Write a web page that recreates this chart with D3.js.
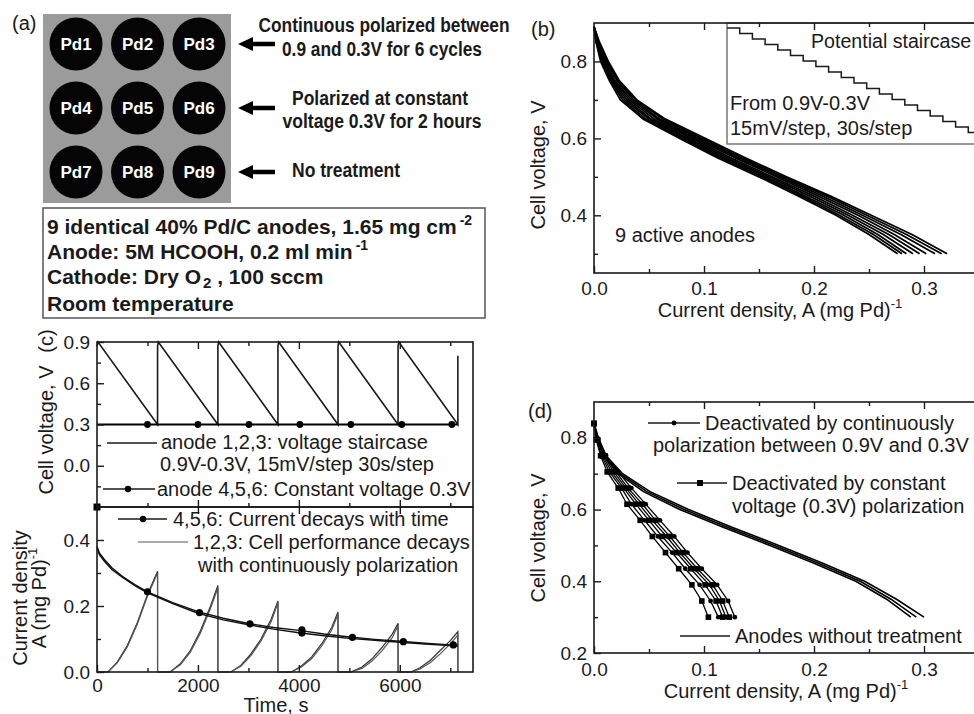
<!DOCTYPE html>
<html>
<head>
<meta charset="utf-8">
<script src="https://cdn.jsdelivr.net/npm/d3@7"></script>
<style>
body { margin: 0; background: #fff; }
svg { display: block; font-family: "Liberation Sans", Arial, sans-serif; }
</style>
</head>
<body>
<svg id="chart"></svg>
<script>
// ---- panel (a) ----
const anodeLabels = ["Pd1", "Pd2", "Pd3", "Pd4", "Pd5", "Pd6", "Pd7", "Pd8", "Pd9"];
const treatmentText = [
    ["Continuous polarized between", "0.9 and 0.3V for 6 cycles"],
    ["Polarized at constant", "voltage 0.3V for 2 hours"],
    ["No treatment"]
];

// ---- panel (b) ----
const bVoltage = [0.89, 0.85, 0.8, 0.75, 0.7, 0.65, 0.6, 0.55, 0.5, 0.45, 0.4, 0.35, 0.3];
const bCurrent = [
    [0, 0.002, 0.006, 0.014, 0.024, 0.045, 0.078, 0.112, 0.150, 0.186, 0.220, 0.250, 0.276],
    [0, 0.002, 0.007, 0.015, 0.026, 0.047, 0.080, 0.115, 0.153, 0.189, 0.223, 0.254, 0.280],
    [0, 0.003, 0.008, 0.016, 0.028, 0.050, 0.083, 0.118, 0.156, 0.192, 0.227, 0.258, 0.284],
    [0, 0.003, 0.008, 0.017, 0.030, 0.052, 0.086, 0.121, 0.159, 0.196, 0.231, 0.263, 0.290],
    [0, 0.003, 0.009, 0.018, 0.032, 0.055, 0.089, 0.124, 0.162, 0.200, 0.235, 0.268, 0.296],
    [0, 0.004, 0.010, 0.019, 0.034, 0.058, 0.092, 0.128, 0.166, 0.204, 0.240, 0.273, 0.302],
    [0, 0.004, 0.011, 0.021, 0.036, 0.060, 0.095, 0.131, 0.169, 0.208, 0.244, 0.279, 0.310],
    [0, 0.004, 0.012, 0.022, 0.038, 0.063, 0.098, 0.134, 0.172, 0.212, 0.248, 0.284, 0.316],
    [0, 0.005, 0.013, 0.023, 0.039, 0.065, 0.101, 0.137, 0.175, 0.215, 0.252, 0.289, 0.321]
];
const stairVoltage = [0.9, 0.885, 0.87, 0.855, 0.84, 0.825, 0.81, 0.795, 0.78, 0.765,
    0.75, 0.735, 0.72, 0.705, 0.69, 0.675, 0.66, 0.645, 0.63, 0.615];
const stairStep = 30;

// ---- panel (c) ----
const cycleTime = [0, 20, 1200, 1200, 1215, 2395, 2395, 2410, 3585, 3585, 3600, 4775, 4775, 4790,
    5965, 5965, 5980, 7150, 7150];
const cycleVolt = [0.87, 0.9, 0.3, 0.87, 0.9, 0.3, 0.87, 0.9, 0.3, 0.87, 0.9, 0.3, 0.87, 0.9,
    0.3, 0.87, 0.9, 0.3, 0.8];
const constTime = [0, 7150];
const constVolt = [0.3, 0.3];
const constDotTime = [1000, 2000, 3010, 4020, 5030, 6040, 7030];

const decayTime = [0, 50, 150, 300, 500, 750, 1000, 1500, 2000, 2500, 3000, 3500, 4000, 4500,
    5000, 5500, 6000, 6500, 7000, 7150];
const decay4 = [0.38, 0.36, 0.34, 0.315, 0.29, 0.265, 0.243, 0.21, 0.183, 0.163, 0.147, 0.135,
    0.126, 0.115, 0.106, 0.099, 0.093, 0.087, 0.082, 0.081];
const decay5 = [0.375, 0.355, 0.335, 0.31, 0.287, 0.262, 0.24, 0.207, 0.178, 0.158, 0.143, 0.13,
    0.119, 0.11, 0.102, 0.096, 0.09, 0.085, 0.08, 0.079];
const decayDotTime = [1000, 2030, 3030, 4060, 4060, 5060, 6070, 7060];
const decayDotValue = [0.243, 0.18, 0.146, 0.128, 0.118, 0.105, 0.092, 0.082];
const decayStartTime = [0];
const decayStartValue = [0.5];

const sawTime = [0, 220, 400, 600, 800, 1000, 1200, 1200,
    1450, 1650, 1850, 2050, 2250, 2395, 2395,
    2650, 2850, 3050, 3250, 3450, 3585, 3585,
    3850, 4050, 4250, 4450, 4650, 4775, 4775,
    5030, 5250, 5450, 5650, 5850, 5965, 5965,
    6220, 6400, 6600, 6800, 7000, 7150, 7150];
const saw1 = [0, 0, 0.03, 0.08, 0.15, 0.235, 0.305, 0,
    0, 0.025, 0.065, 0.125, 0.2, 0.262, 0,
    0, 0.02, 0.055, 0.1, 0.16, 0.215, 0,
    0, 0.018, 0.045, 0.085, 0.135, 0.182, 0,
    0, 0.015, 0.04, 0.075, 0.115, 0.148, 0,
    0, 0.013, 0.035, 0.065, 0.095, 0.122, 0];
const saw2 = [0, 0, 0.028, 0.076, 0.145, 0.23, 0.3, 0,
    0, 0.022, 0.06, 0.118, 0.193, 0.255, 0,
    0, 0.017, 0.05, 0.094, 0.152, 0.21, 0,
    0, 0.015, 0.04, 0.078, 0.127, 0.175, 0,
    0, 0.011, 0.033, 0.065, 0.104, 0.14, 0,
    0, 0.009, 0.028, 0.055, 0.085, 0.112, 0];

// ---- panel (d) ----
const dVoltUntreated = [0.84, 0.8, 0.75, 0.7, 0.65, 0.6, 0.55, 0.5, 0.45, 0.4, 0.35, 0.3];
const dUntreated = [
    [0, 0.003, 0.009, 0.022, 0.045, 0.078, 0.118, 0.160, 0.200, 0.238, 0.266, 0.288],
    [0, 0.003, 0.010, 0.024, 0.048, 0.082, 0.122, 0.164, 0.204, 0.242, 0.270, 0.293],
    [0, 0.004, 0.011, 0.026, 0.051, 0.086, 0.126, 0.168, 0.208, 0.246, 0.275, 0.300]
];
const dVoltTreated = [0.84, 0.795, 0.75, 0.705, 0.66, 0.615, 0.57, 0.525, 0.48, 0.435, 0.39, 0.345, 0.3];
const dCycled = [
    [0, 0.002, 0.007, 0.014, 0.025, 0.034, 0.046, 0.058, 0.071, 0.083, 0.096, 0.106, 0.113],
    [0, 0.003, 0.009, 0.018, 0.029, 0.041, 0.053, 0.066, 0.078, 0.091, 0.105, 0.114, 0.120],
    [0, 0.004, 0.011, 0.022, 0.034, 0.047, 0.060, 0.073, 0.085, 0.098, 0.112, 0.122, 0.128]
];
const dConstant = [
    [0, 0.002, 0.006, 0.012, 0.022, 0.030, 0.042, 0.053, 0.065, 0.077, 0.089, 0.098, 0.104],
    [0, 0.003, 0.008, 0.016, 0.027, 0.038, 0.050, 0.062, 0.075, 0.088, 0.101, 0.111, 0.117],
    [0, 0.003, 0.010, 0.020, 0.031, 0.044, 0.056, 0.069, 0.081, 0.094, 0.108, 0.117, 0.123]
];

const FONT = "'Liberation Sans', Arial, sans-serif";
const INK = "#1a1a1a";

const svg = d3.select("#chart").attr("width", 974).attr("height", 714);
svg.append("rect").attr("width", 974).attr("height", 714).attr("fill", "#fff");

function axis(root, kind, scale, at, values, size, fmt, pad) {
    const make = { bottom: d3.axisBottom, top: d3.axisTop, left: d3.axisLeft }[kind];
    const gen = make(scale).tickValues(values).tickSizeInner(-size).tickSizeOuter(0)
        .tickPadding(pad || 8).tickFormat(fmt || (() => ""));
    const g = root.append("g")
        .attr("transform", kind === "left" ? `translate(${at},0)` : `translate(0,${at})`)
        .call(gen);
    g.attr("font-size", 19).attr("font-family", FONT);
    g.select(".domain").remove();
    g.selectAll("line").attr("stroke", INK).attr("stroke-width", 1.4);
    g.selectAll("text").attr("fill", INK);
    return g;
}

function frame(root, x0, y0, x1, y1) {
    root.append("rect").attr("x", x0).attr("y", y0).attr("width", x1 - x0).attr("height", y1 - y0)
        .attr("fill", "none").attr("stroke", INK).attr("stroke-width", 1.6);
}

function label(root, x, y, str, opts = {}) {
    const t = root.append("text").attr("x", x).attr("y", y).attr("font-size", opts.size || 20)
        .attr("fill", INK).attr("text-anchor", opts.anchor || "start").text(str);
    if (opts.bold) t.attr("font-weight", "bold");
    if (opts.len) t.attr("textLength", opts.len).attr("lengthAdjust", "spacingAndGlyphs");
    return t;
}

function rotated(root, x, y, parts) {
    const t = root.append("text").attr("transform", `translate(${x},${y}) rotate(-90)`)
        .attr("text-anchor", "middle").attr("font-size", 20).attr("fill", INK);
    parts.forEach(p => {
        const s = t.append("tspan").text(p.t);
        if (p.sup) s.attr("font-size", 13).attr("dy", -9);
    });
    return t;
}

function xTitle(root, x, y) {
    const t = root.append("text").attr("x", x).attr("y", y).attr("text-anchor", "middle")
        .attr("font-size", 20).attr("fill", INK);
    t.append("tspan").text("Current density, A (mg Pd)");
    t.append("tspan").attr("font-size", 13).attr("dy", -9).text("-1");
}

// ================= (a) =================
const gA = svg.append("g").attr("font-family", FONT);
label(gA, 12, 30, "(a)");
gA.append("rect").attr("x", 43).attr("y", 14).attr("width", 188).attr("height", 189).attr("fill", "#9b9b9b");
const padX = d3.scalePoint().domain([0, 1, 2]).range([76, 199]);
const padY = d3.scalePoint().domain([0, 1, 2]).range([44, 172]);
anodeLabels.forEach((name, i) => {
    const cx = padX(i % 3), cy = padY(Math.floor(i / 3));
    gA.append("circle").attr("cx", cx).attr("cy", cy).attr("r", 26.5).attr("fill", "#050505");
    gA.append("text").attr("x", cx).attr("y", cy + 6).attr("text-anchor", "middle")
        .attr("font-size", 17).attr("font-weight", "bold").attr("fill", "#fff").text(name);
});
[0, 1, 2].forEach(r => {
    const y = padY(r);
    gA.append("path").attr("fill", "#000")
        .attr("d", `M238,${y} L253,${y - 7} L253,${y - 2.2} L275,${y - 2.2} L275,${y + 2.2} L253,${y + 2.2} L253,${y + 7} Z`);
});
label(gA, 384, 32, treatmentText[0][0], { bold: true, anchor: "middle", len: 251 });
label(gA, 382, 56, treatmentText[0][1], { bold: true, anchor: "middle", len: 200 });
label(gA, 380, 105, treatmentText[1][0], { bold: true, anchor: "middle", len: 176 });
label(gA, 382, 128, treatmentText[1][1], { bold: true, anchor: "middle", len: 199 });
label(gA, 292, 177, treatmentText[2][0], { bold: true, len: 108 });

gA.append("rect").attr("x", 43).attr("y", 208).attr("width", 442).attr("height", 110)
    .attr("fill", "none").attr("stroke", "#555").attr("stroke-width", 1.5);
const boxText = gA.append("g").attr("font-size", 21).attr("font-weight", "bold").attr("fill", INK);
let t1 = boxText.append("text").attr("x", 47).attr("y", 234);
t1.append("tspan").text("9 identical 40% Pd/C anodes, 1.65 mg cm");
t1.append("tspan").attr("font-size", 14).attr("dy", -9).attr("dx", 3).text("-2");
let t2 = boxText.append("text").attr("x", 47).attr("y", 259);
t2.append("tspan").text("Anode: 5M HCOOH, 0.2 ml min");
t2.append("tspan").attr("font-size", 14).attr("dy", -9).attr("dx", 3).text("-1");
let t3 = boxText.append("text").attr("x", 47).attr("y", 284);
t3.append("tspan").text("Cathode: Dry O");
t3.append("tspan").attr("font-size", 15).attr("dy", 4).attr("dx", 2).text("2");
t3.append("tspan").attr("dy", -4).text(" ,  100 sccm");
boxText.append("text").attr("x", 47).attr("y", 311).text("Room temperature");

// ================= (b) =================
const gB = svg.append("g").attr("font-family", FONT);
const bx = d3.scaleLinear().domain([0, 0.35]).range([594, 979]);
const by = d3.scaleLinear().domain([0.25, 0.9]).range([273, 23]);

// inset staircase
const ix = d3.scaleLinear().domain([0, 600]).range([727, 981]);
const iy = d3.scaleLinear().domain([0.9, 0.6]).range([28, 138]);
gB.append("rect").attr("x", 727).attr("y", 23).attr("width", 260).attr("height", 121)
    .attr("fill", "#fff").attr("stroke", "#777").attr("stroke-width", 1.5);
const stairPts = stairVoltage.map((v, i) => [i * stairStep, v]).concat([[stairVoltage.length * stairStep, stairVoltage[stairVoltage.length - 1]]]);
gB.append("path").attr("fill", "none").attr("stroke", INK).attr("stroke-width", 1.5)
    .attr("d", d3.line().x(d => ix(d[0])).y(d => iy(d[1])).curve(d3.curveStepAfter)(stairPts));
label(gB, 811, 48, "Potential staircase", { size: 19.6 });
label(gB, 730, 110, "From 0.9V-0.3V");
label(gB, 730, 135, "15mV/step, 30s/step");

const bLine = d3.line().x(d => bx(d[0])).y(d => by(d[1]));
bCurrent.forEach(curve => {
    gB.append("path").attr("fill", "none").attr("stroke", "#000").attr("stroke-width", 1.8)
        .attr("d", bLine(curve.map((j, i) => [j, bVoltage[i]])));
});
frame(gB, 594, 23, 979, 273);
axis(gB, "left", by, 594, [0.4, 0.6, 0.8], 7, d3.format(".1f"), 7);
axis(gB, "left", by, 594, [0.3, 0.5, 0.7], 4);
axis(gB, "bottom", bx, 273, [0, 0.1, 0.2, 0.3], 7, d3.format(".1f"), 9);
axis(gB, "bottom", bx, 273, [0.05, 0.15, 0.25], 4);
axis(gB, "top", bx, 23, [0.1, 0.2, 0.3], 7);
axis(gB, "top", bx, 23, [0.05, 0.15, 0.25], 4);
label(gB, 531, 36, "(b)");
label(gB, 615, 242, "9 active anodes");
rotated(gB, 545, 165, [{ t: "Cell voltage, V" }]);
xTitle(gB, 780, 317);

// ================= (c) =================
const gC = svg.append("g").attr("font-family", FONT);
const cx = d3.scaleLinear().domain([0, 7450]).range([97, 473]);
const cyTop = d3.scaleLinear().domain([-0.3, 0.9]).range([507, 342]);
const cyBot = d3.scaleLinear().domain([0, 0.5]).range([672, 507]);

gC.append("path").attr("fill", "none").attr("stroke", INK).attr("stroke-width", 1.6)
    .attr("d", d3.line().x(d => cx(d[0])).y(d => cyTop(d[1]))(cycleTime.map((t, i) => [t, cycleVolt[i]])));
gC.append("path").attr("fill", "none").attr("stroke", "#000").attr("stroke-width", 2.2)
    .attr("d", d3.line().x(d => cx(d[0])).y(d => cyTop(d[1]))(constTime.map((t, i) => [t, constVolt[i]])));
gC.selectAll(".cdot").data(constDotTime).join("circle").attr("class", "cdot")
    .attr("cx", d => cx(d)).attr("cy", cyTop(0.3)).attr("r", 3.4).attr("fill", "#000");

const sawLine = d3.line().x(d => cx(d[0])).y(d => cyBot(d[1]));
[saw1, saw2].forEach((s, k) => {
    gC.append("path").attr("fill", "none").attr("stroke", k ? "#555" : "#333").attr("stroke-width", 1.2)
        .attr("d", sawLine(sawTime.map((t, i) => [t, s[i]])));
});
[decay4, decay5].forEach(s => {
    gC.append("path").attr("fill", "none").attr("stroke", "#111").attr("stroke-width", 1.4)
        .attr("d", sawLine(decayTime.map((t, i) => [t, s[i]])));
});
gC.selectAll(".ddot").data(decayDotTime.map((t, i) => [t, decayDotValue[i]])).join("circle")
    .attr("class", "ddot").attr("cx", d => cx(d[0])).attr("cy", d => cyBot(d[1]))
    .attr("r", 3.6).attr("fill", "#000");
gC.selectAll(".dstart").data(decayStartTime.map((t, i) => [t, decayStartValue[i]])).join("rect")
    .attr("class", "dstart").attr("x", d => cx(d[0]) - 3.5).attr("y", d => cyBot(d[1]) - 3.5)
    .attr("width", 7).attr("height", 7).attr("fill", "#000");

frame(gC, 97, 342, 473, 507);
frame(gC, 97, 507, 473, 672);
axis(gC, "left", cyTop, 97, [0, 0.3, 0.6, 0.9], 7, d3.format(".1f"), 7);
axis(gC, "left", cyTop, 97, [-0.15, 0.15, 0.45, 0.75], 4);
axis(gC, "left", cyBot, 97, [0, 0.2, 0.4], 7, d3.format(".1f"), 7);
axis(gC, "left", cyBot, 97, [0.1, 0.3], 4);
axis(gC, "top", cx, 342, [2000, 4000, 6000], 7);
axis(gC, "top", cx, 342, [1000, 3000, 5000, 7000], 4);
axis(gC, "bottom", cx, 507, [2000, 4000, 6000], 7);
axis(gC, "bottom", cx, 507, [1000, 3000, 5000, 7000], 4);
axis(gC, "top", cx, 507, [2000, 4000, 6000], 7);
axis(gC, "bottom", cx, 672, [0, 2000, 4000, 6000], 7, d3.format("d"), 7);
axis(gC, "bottom", cx, 672, [1000, 3000, 5000, 7000], 4);

// legends (c)
gC.append("line").attr("x1", 107).attr("x2", 157).attr("y1", 443).attr("y2", 443).attr("stroke", INK).attr("stroke-width", 1.3);
label(gC, 161, 449, "anode 1,2,3: voltage staircase");
label(gC, 160, 471, "0.9V-0.3V, 15mV/step 30s/step");
gC.append("line").attr("x1", 103).attr("x2", 155).attr("y1", 489).attr("y2", 489).attr("stroke", INK).attr("stroke-width", 1.3);
gC.append("circle").attr("cx", 128).attr("cy", 489).attr("r", 3.2).attr("fill", "#000");
label(gC, 157, 496, "anode 4,5,6: Constant voltage 0.3V");
gC.append("line").attr("x1", 118).attr("x2", 167).attr("y1", 519).attr("y2", 519).attr("stroke", INK).attr("stroke-width", 1.3);
gC.append("circle").attr("cx", 143).attr("cy", 519).attr("r", 3.2).attr("fill", "#000");
label(gC, 173, 526, "4,5,6: Current decays with time");
gC.append("line").attr("x1", 138).attr("x2", 188).attr("y1", 542).attr("y2", 542).attr("stroke", "#555").attr("stroke-width", 1);
label(gC, 193, 549, "1,2,3: Cell performance decays");
label(gC, 198, 572, "with continuously polarization");

rotated(gC, 53, 341, [{ t: "(c)" }]);
rotated(gC, 53, 430, [{ t: "Cell voltage, V" }]);
rotated(gC, 27, 598, [{ t: "Current density" }]);
rotated(gC, 46, 598, [{ t: "A (mg Pd)" }, { t: "-1", sup: true }]);
gC.append("text").attr("x", 276).attr("y", 712).attr("text-anchor", "middle").attr("font-size", 20)
    .attr("fill", INK).text("Time, s");

// ================= (d) =================
const gD = svg.append("g").attr("font-family", FONT);
const dx = d3.scaleLinear().domain([0, 0.35]).range([594, 979]);
const dy = d3.scaleLinear().domain([0.2, 0.9]).range([653, 402]);
const dLine = d3.line().x(d => dx(d[0])).y(d => dy(d[1]));

dUntreated.forEach(curve => {
    gD.append("path").attr("fill", "none").attr("stroke", "#000").attr("stroke-width", 1.6)
        .attr("d", dLine(curve.map((j, i) => [j, dVoltUntreated[i]])));
});
dCycled.forEach(curve => {
    const pts = curve.map((j, i) => [j, dVoltTreated[i]]);
    gD.append("path").attr("fill", "none").attr("stroke", "#000").attr("stroke-width", 1.3).attr("d", dLine(pts));
    gD.append("g").selectAll("circle").data(pts).join("circle")
        .attr("cx", d => dx(d[0])).attr("cy", d => dy(d[1])).attr("r", 2.4).attr("fill", "#000");
});
dConstant.forEach(curve => {
    const pts = curve.map((j, i) => [j, dVoltTreated[i]]);
    gD.append("path").attr("fill", "none").attr("stroke", "#000").attr("stroke-width", 1.3).attr("d", dLine(pts));
    gD.append("g").selectAll("rect").data(pts).join("rect")
        .attr("x", d => dx(d[0]) - 2.8).attr("y", d => dy(d[1]) - 2.8)
        .attr("width", 5.6).attr("height", 5.6).attr("fill", "#000");
});

frame(gD, 594, 402, 979, 653);
axis(gD, "left", dy, 594, [0.2, 0.4, 0.6, 0.8], 7, d3.format(".1f"), 7);
axis(gD, "left", dy, 594, [0.3, 0.5, 0.7], 4);
axis(gD, "bottom", dx, 653, [0, 0.1, 0.2, 0.3], 7, d3.format(".1f"), 10);
axis(gD, "bottom", dx, 653, [0.05, 0.15, 0.25], 4);
axis(gD, "top", dx, 402, [0.1, 0.2, 0.3], 7);
axis(gD, "top", dx, 402, [0.05, 0.15, 0.25], 4);

gD.append("line").attr("x1", 648).attr("x2", 700).attr("y1", 423).attr("y2", 423).attr("stroke", INK).attr("stroke-width", 1.3);
gD.append("circle").attr("cx", 674).attr("cy", 423).attr("r", 2.4).attr("fill", "#000");
label(gD, 705, 430, "Deactivated by continuously");
label(gD, 653, 452, "polarization between 0.9V and 0.3V");
gD.append("line").attr("x1", 677).attr("x2", 727).attr("y1", 483).attr("y2", 483).attr("stroke", INK).attr("stroke-width", 1.3);
gD.append("rect").attr("x", 697).attr("y", 480).attr("width", 6).attr("height", 6).attr("fill", "#000");
label(gD, 732, 490, "Deactivated by constant");
label(gD, 732, 513, "voltage (0.3V) polarization");
gD.append("line").attr("x1", 680).attr("x2", 730).attr("y1", 636).attr("y2", 636).attr("stroke", INK).attr("stroke-width", 1.3);
label(gD, 735, 643, "Anodes without treatment");

label(gD, 528, 418, "(d)");
rotated(gD, 545, 538, [{ t: "Cell voltage, V" }]);
xTitle(gD, 786, 698);
</script>
</body>
</html>
